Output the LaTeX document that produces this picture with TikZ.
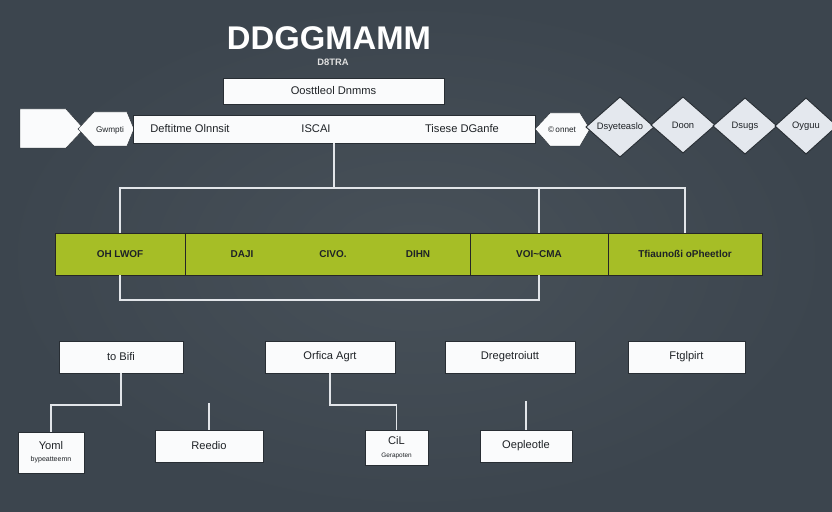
\documentclass[tikz,border=0pt]{standalone}
\usepackage{fontspec}
\setmainfont{Liberation Sans}
\usepackage{xcolor}
\usepackage{tikz}

\definecolor{slate}{RGB}{60,69,78}
\definecolor{slatelight}{RGB}{72,81,89}
\definecolor{slatedark}{RGB}{40,46,52}
\definecolor{lime}{RGB}{166,190,38}
\definecolor{wire}{RGB}{226,229,233}
\definecolor{paper}{RGB}{250,251,252}
\definecolor{diamondfill}{RGB}{228,232,238}
\definecolor{ink}{RGB}{30,34,38}

\tikzset{
  box/.style={draw=slatedark, fill=paper, text=ink, line width=0.6pt, inner sep=1pt, align=center, font=\fontsize{9.5}{10.5}\selectfont},
  bar/.style={draw=black!85, fill=lime, text=ink, line width=0.6pt, font=\fontsize{8.5}{10}\selectfont\bfseries},
  wire/.style={draw=wire, line width=1.6pt},
  bw/.style={minimum width=#1*0.03cm},
  bh/.style={minimum height=#1*0.03cm},
  word/.style={text=ink, inner sep=0pt, font=\fontsize{9.5}{10.5}\selectfont},
}

\begin{document}
\begin{tikzpicture}[x=0.03cm, y=-0.03cm]
\useasboundingbox (0,0) rectangle (832,512);
\shade[inner color=slatelight, outer color=slate] (0,0) rectangle (832,512);

% title
\node[text=white, font=\fontsize{28}{30}\selectfont\bfseries] (title) at (329,38) {DDGGMAMM};
\node[text=black!12, font=\fontsize{8}{9}\selectfont\bfseries] (subtitle) at (333,62) {D8TRA};
\node[box, bw=221, bh=26] (head) at (333.5,91) {Oosttleol Dnmms};

% top strip
\draw[fill=paper, draw=slatedark] (20,109)--(66,109)--(84,129)--(66,148)--(20,148)--cycle;
\draw[fill=paper, draw=slatedark] (78,129)--(94,112)--(127,112)--(134,129)--(127,146)--(94,146)--cycle;
\node[word, font=\fontsize{7}{8}\selectfont] (gwmpti) at (110,130) {Gwmpti};

\node[box, bw=402, bh=28] (strip) at (334,129) {};
\node[word] (deft) at (190,129) {Deftitme Olnnsit};
\node[word] (iscai) at (316,129) {ISCAI};
\node[word] (tisese) at (462,129) {Tisese DGanfe};

\draw[fill=paper, draw=slatedark] (535,129)--(550,113)--(580,113)--(590,129)--(580,146)--(550,146)--cycle;
\node[word, font=\fontsize{7}{8}\selectfont] (onnet) at (562,130) {©\,onnet};

\foreach \x/\y/\hw/\hh/\t/\n in {620/127/34/30/Dsyeteaslo/dia1, 683/125/32/28/Doon/dia2, 745/126/32/28/Dsugs/dia3, 806/126/31/28/Oyguu/dia4}{
	\draw[fill=diamondfill, draw=slatedark, line width=0.8pt] (\x-\hw,\y)--(\x,\y-\hh)--(\x+\hw,\y)--(\x,\y+\hh)--cycle;
	\node[word, font=\fontsize{8}{9}\selectfont] (\n) at (\x,\y) {\t};
}

% green bar
\node[bar, bw=130, bh=42] (g1) at (120,254) {OH LWOF};
\node[bar, bw=285, bh=42] (g2) at (327.5,254) {};
\node[bar, bw=138, bh=42] (g3) at (539,254) {VOI\textasciitilde CMA};
\node[bar, bw=154, bh=42] (g4) at (685,254) {Tfiaunoßi oPheetlor};
\node[word, font=\fontsize{8.5}{10}\selectfont\bfseries] (daji) at (242,254) {DAJI};
\node[word, font=\fontsize{8.5}{10}\selectfont\bfseries] (civo) at (333,254) {CIVO.};
\node[word, font=\fontsize{8.5}{10}\selectfont\bfseries] (dihn) at (418,254) {DIHN};

\path (strip.south) ++(0,45) coordinate (bus);
\draw[wire] (strip.south)--(bus);
\draw[wire] (g1.north) |- (bus) -| (g4.north);
\draw[wire] (g3.north) |- (bus);
\draw[wire] (g1.south)--++(0,25) -| (g3.south);

% lower boxes
\node[box, bw=124, bh=32] (b1) at (121,357) {to Bifi};
\node[box, bw=130, bh=32] (b2) at (330,357) {Orfica Agrt};
\node[box, bw=130, bh=32] (b3) at (510,357) {Dregetroiutt};
\node[box, bw=117, bh=32] (b4) at (686.5,357) {Ftglpirt};

\node[box, bw=66, bh=41] (c1) at (51,452.5) {Yoml\\{\fontsize{6}{7}\selectfont bypeatteemn}};
\node[box, bw=108, bh=32] (c2) at (209,446) {Reedio};
\node[box, bw=63, bh=35] (c3) at (396.5,447.5) {CiL\\{\fontsize{5.5}{6}\selectfont Gerapoten}};
\node[box, bw=92, bh=32] (c4) at (526,446) {Oepleotle};

\coordinate (knee) at (0,405);
\draw[wire] (b1.south)--(b1.south |- knee) -| (c1.north);
\draw[wire] (b2.south)--(b2.south |- knee) -| (c3.north);
\draw[wire] (c2.north)--++(0,-27);
\draw[wire] (c4.north)--++(0,-29);

\end{tikzpicture}
\end{document}
